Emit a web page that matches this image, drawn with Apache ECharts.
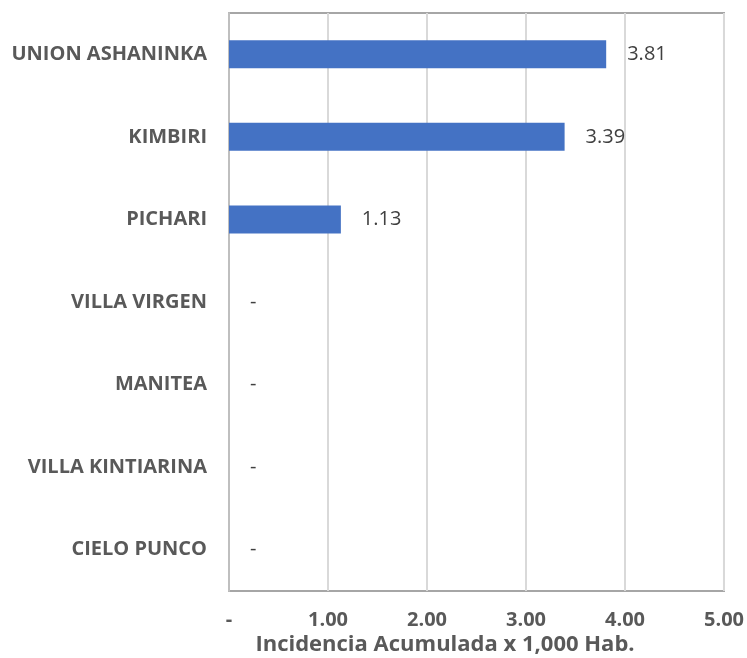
<!DOCTYPE html>
<html>
<head>
<meta charset="utf-8">
<script src="https://cdn.jsdelivr.net/npm/echarts@6/dist/echarts.min.js"></script>
<style>
  html, body { margin: 0; padding: 0; background: #fff; }
  #main { width: 747px; height: 658px; }
</style>
</head>
<body>
<div id="main"></div>
<script>
// distritos y valores
var distritos = ['UNION ASHANINKA', 'KIMBIRI', 'PICHARI', 'VILLA VIRGEN', 'MANITEA', 'VILLA KINTIARINA', 'CIELO PUNCO'];
var incidencia = [3.81, 3.39, 1.13, 0, 0, 0, 0];
var tituloEje = 'Incidencia Acumulada x 1,000 Hab.';

var myChart = echarts.init(document.getElementById('main'));

var fmt = function (v) {
    return v === 0 ? '-' : v.toFixed(2);
};

var option = {
    backgroundColor: '#ffffff',
    animation: false,
    textStyle: { fontFamily: 'Open Sans' },
    grid: {
        left: 229, right: 23, top: 13, bottom: 67,
        show: true,
        borderColor: '#a6a6a6',
        borderWidth: 2,
        containLabel: false
    },
    xAxis: {
        type: 'value',
        min: 0, max: 5, interval: 1,
        axisLine: { show: false },
        axisTick: { show: false },
        splitLine: { lineStyle: { color: '#d9d9d9', width: 2 } },
        axisLabel: {
            formatter: fmt,
            color: '#595959',
            fontFamily: 'Open Sans',
            fontSize: 20,
            fontWeight: 'bold',
            margin: 19
        }
    },
    yAxis: {
        type: 'category',
        data: distritos,
        inverse: true,
        axisLine: { show: true, lineStyle: { color: '#bfbfbf', width: 2 } },
        axisTick: { show: false },
        axisLabel: {
            color: '#595959',
            fontFamily: 'Open Sans',
            fontSize: 20,
            fontWeight: 'bold',
            margin: 22
        }
    },
    graphic: [{
        type: 'text',
        x: 445, y: 645,
        style: {
            text: tituloEje,
            fill: '#595959',
            font: 'bold 22px "Open Sans"',
            align: 'center',
            verticalAlign: 'middle',
            textAlign: 'center',
            textVerticalAlign: 'middle'
        }
    }],
    series: [{
        type: 'bar',
        data: incidencia,
        barWidth: 28,
        itemStyle: { color: '#4472c4' },
        label: {
            show: true,
            position: 'right',
            distance: 21,
            color: '#404040',
            fontFamily: 'Open Sans',
            fontSize: 20,
            formatter: function (p) { return fmt(p.value); }
        }
    }]
};

myChart.setOption(option);
</script>
</body>
</html>
